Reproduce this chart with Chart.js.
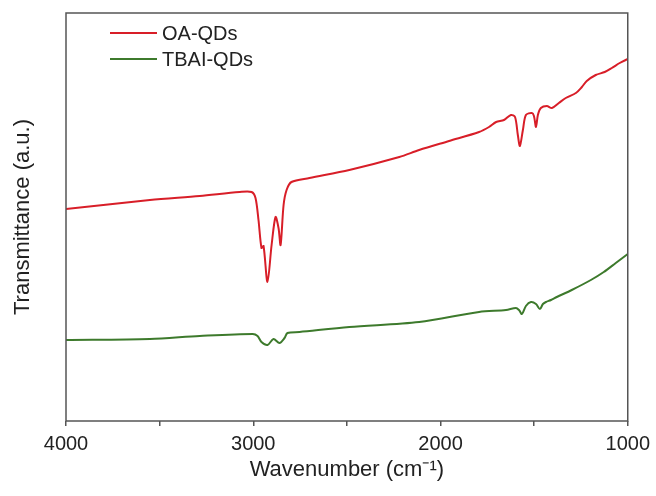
<!DOCTYPE html>
<html lang="en">
<head>
    <meta charset="UTF-8">
    <title>FTIR spectra</title>
    <script src="https://cdn.jsdelivr.net/npm/chart.js"></script>
    <style>
        html, body { margin: 0; padding: 0; background: #fff; }
        #wrap { width: 656px; height: 496px; }
    </style>
</head>
<body>
    <div id="wrap"><canvas id="ftir"></canvas></div>
    <script>
        // spectra (wavenumber in cm-1, transmittance in arbitrary units)
        const oaWavenumber = [4000, 3552, 3286, 3073, 3009, 2988, 2972, 2956, 2945, 2924, 2902, 2881, 2865, 2854, 2838, 2822, 2796, 2700, 2487, 2220, 2114, 1954, 1794, 1741, 1703, 1661, 1624, 1602, 1587, 1576, 1560, 1544, 1512, 1501, 1490, 1480, 1464, 1432, 1405, 1368, 1331, 1277, 1245, 1219, 1171, 1123, 1085, 1043, 1000];
        const oaTransmittance = [212, 221, 225, 229, 229, 223, 201, 173, 175, 139, 176, 204, 193, 176, 216, 231, 239, 243, 251, 264, 271, 280, 289, 294, 299, 301, 306, 304, 286, 275, 291, 306, 308, 305, 294, 306, 313, 315, 313, 318, 323, 328, 334, 340, 346, 349, 353, 358, 362];

        const tbaiWavenumber = [4000, 3552, 3286, 3003, 2977, 2956, 2924, 2892, 2860, 2833, 2817, 2753, 2487, 2114, 1794, 1650, 1597, 1581, 1565, 1544, 1517, 1490, 1469, 1453, 1437, 1410, 1379, 1299, 1197, 1128, 1064, 1000];
        const tbaiTransmittance = [81, 82, 85, 87, 85, 79, 76, 82, 78, 83, 88, 89, 94, 99, 109, 111, 113, 111, 107, 115, 119, 117, 112, 117, 119, 121, 124, 131, 141, 149, 158, 167];

        const seriesNames = ['OA-QDs', 'TBAI-QDs'];
        const seriesColors = ['#d81e28', '#3d7a2c'];
        const xTickLabels = [4000, 3000, 2000, 1000];

        const fontFamily = '"Liberation Sans", Arial, sans-serif';

        function toPoints(xs, ys) {
            return xs.map((x, i) => ({ x: x, y: ys[i] }));
        }

        // frame around the plot area plus the little legend in the top-left corner
        const framePlugin = {
            id: 'frame',
            afterDraw(chart) {
                const { ctx, chartArea: a } = chart;
                ctx.save();
                ctx.strokeStyle = '#555';
                ctx.lineWidth = 1.5;
                ctx.strokeRect(a.left, a.top, a.right - a.left, a.bottom - a.top);

                ctx.font = '20px ' + fontFamily;
                ctx.textBaseline = 'middle';
                ctx.fillStyle = '#222';
                seriesNames.forEach((name, i) => {
                    const y = a.top + 20 + i * 26;
                    ctx.strokeStyle = seriesColors[i];
                    ctx.lineWidth = 2;
                    ctx.beginPath();
                    ctx.moveTo(a.left + 44, y);
                    ctx.lineTo(a.left + 91, y);
                    ctx.stroke();
                    ctx.fillText(name, a.left + 96, y + 1);
                });
                ctx.restore();
            }
        };

        new Chart(document.getElementById('ftir'), {
            type: 'line',
            data: {
                datasets: [
                    {
                        label: seriesNames[0],
                        data: toPoints(oaWavenumber, oaTransmittance),
                        borderColor: seriesColors[0],
                        borderWidth: 2,
                        pointRadius: 0,
                        tension: 0.3
                    },
                    {
                        label: seriesNames[1],
                        data: toPoints(tbaiWavenumber, tbaiTransmittance),
                        borderColor: seriesColors[1],
                        borderWidth: 2,
                        pointRadius: 0,
                        tension: 0.3
                    }
                ]
            },
            options: {
                responsive: true,
                maintainAspectRatio: false,
                animation: false,
                layout: { padding: { top: 13, right: 27, left: 0, bottom: 0 } },
                plugins: {
                    legend: { display: false },
                    tooltip: { enabled: false }
                },
                scales: {
                    x: {
                        type: 'linear',
                        reverse: true,
                        min: 1000,
                        max: 4000,
                        afterFit(scale) { scale.height = 75; },
                        border: { display: false },
                        grid: {
                            drawOnChartArea: false,
                            tickLength: 5,
                            tickColor: '#555',
                            lineWidth: 1.5
                        },
                        ticks: {
                            stepSize: 500,
                            maxRotation: 0,
                            padding: 6,
                            color: '#222',
                            font: { family: fontFamily, size: 20 },
                            callback: (v) => xTickLabels.includes(v) ? String(v) : ''
                        },
                        title: {
                            display: true,
                            text: 'Wavenumber (cm\u207B\u00B9)',
                            color: '#222',
                            font: { family: fontFamily, size: 22 },
                            padding: { top: 0, bottom: 13 }
                        }
                    },
                    y: {
                        min: 0,
                        max: 408,
                        afterFit(scale) { scale.width = 66; },
                        border: { display: false },
                        grid: { display: false },
                        ticks: { display: false },
                        title: {
                            display: true,
                            text: 'Transmittance (a.u.)',
                            color: '#222',
                            font: { family: fontFamily, size: 22 },
                            padding: { top: 10, bottom: 0 }
                        }
                    }
                }
            },
            plugins: [framePlugin]
        });
    </script>
</body>
</html>
